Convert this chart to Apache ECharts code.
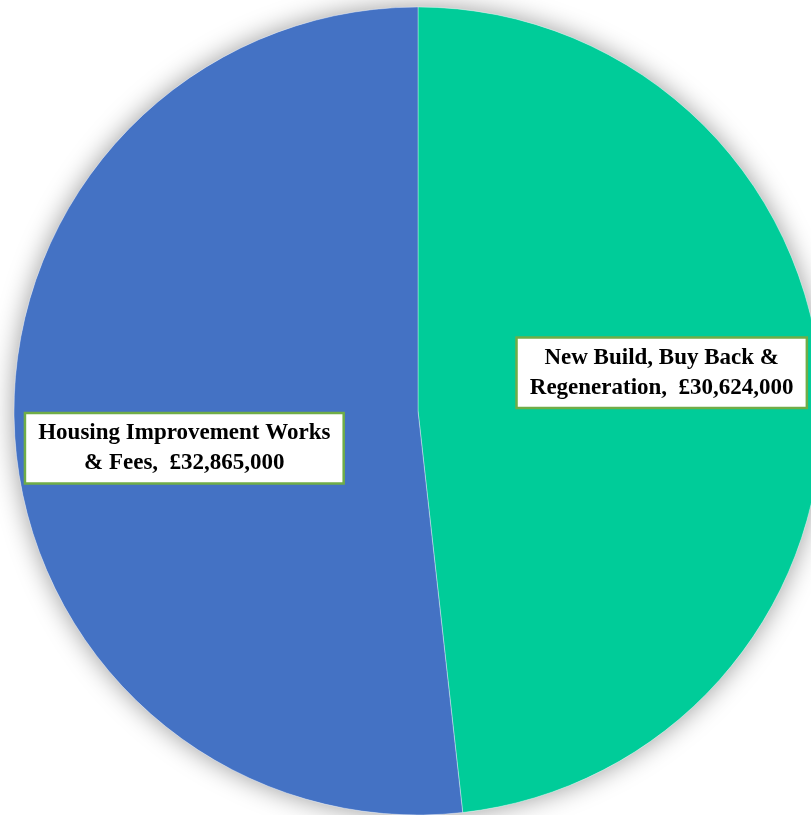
<!DOCTYPE html>
<html>
<head>
<meta charset="utf-8">
<script src="https://cdn.jsdelivr.net/npm/echarts@6/dist/echarts.min.js"></script>
<style>
  html, body { margin: 0; padding: 0; background: #ffffff; }
  #chart { width: 811px; height: 815px; }
</style>
</head>
<body>
<div id="chart"></div>
<script>
// Capital programme split by spend area
const categories = ['New Build, Buy Back &\nRegeneration', 'Housing Improvement Works\n& Fees'];
const amounts = [30624000, 32865000];
const sliceColors = ['#00CC99', '#4472C4'];

const fmt = v => '£' + v.toLocaleString('en-GB');
const total = amounts.reduce((a, b) => a + b, 0);

const labelOffsets = [[39, -27], [-29, 26]];

const chart = echarts.init(document.getElementById('chart'), null, { renderer: 'canvas' });

chart.setOption({
  backgroundColor: '#ffffff',
  animation: false,
  series: [
    {
      // soft drop shadow under the whole disc
      type: 'pie',
      silent: true,
      center: [418, 411],
      radius: 404,
      label: { show: false },
      labelLine: { show: false },
      data: [{ value: total, name: 'shadow' }],
      itemStyle: {
        color: '#ffffff',
        shadowBlur: 26,
        shadowColor: 'rgba(0,0,0,0.4)'
      }
    },
    {
      type: 'pie',
      center: [418, 411],
      radius: 404,
      startAngle: 90,
      clockwise: true,
      labelLine: { show: false },
      itemStyle: {
        borderColor: 'rgba(255,255,255,0.35)',
        borderWidth: 1
      },
      data: categories.map((name, i) => ({
        name,
        value: amounts[i],
        itemStyle: { color: sliceColors[i] },
        label: { offset: labelOffsets[i] }
      })),
      label: {
        show: true,
        position: 'inside',
        formatter: p => {
          const parts = p.name.split('\n');
          return parts[0] + '\n' + parts[1] + ',  ' + fmt(p.value);
        },
        fontFamily: 'Liberation Serif',
        fontWeight: 'bold',
        fontSize: 23,
        lineHeight: 30,
        color: '#000000',
        align: 'center',
        backgroundColor: '#ffffff',
        borderColor: '#70AD47',
        borderWidth: 2.5,
        padding: [4, 12, 4, 12]
      }
    }
  ]
});
</script>
</body>
</html>
